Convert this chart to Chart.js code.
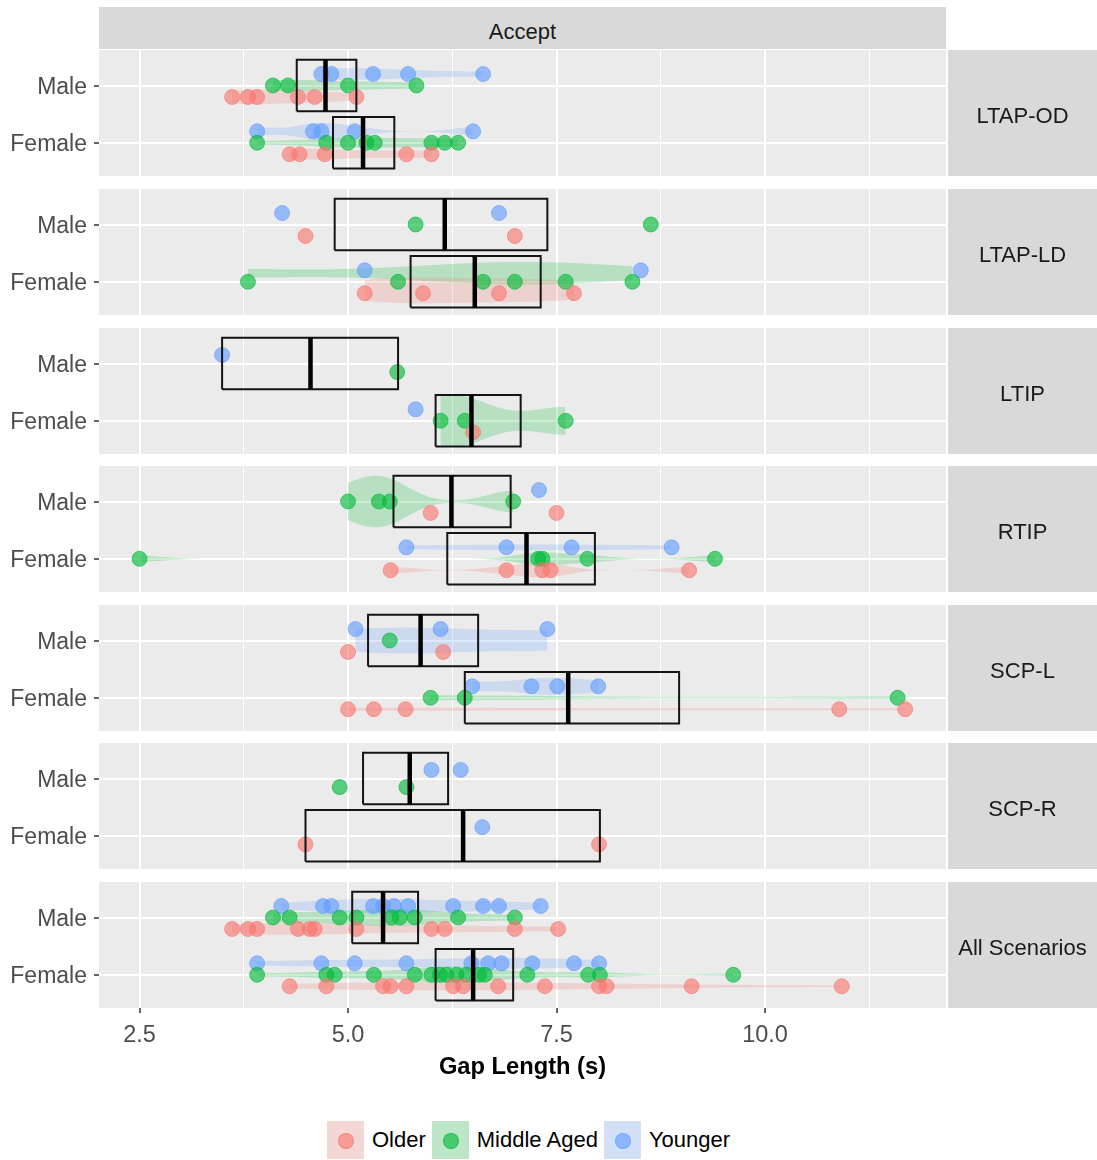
<!DOCTYPE html>
<html>
<head>
<meta charset="utf-8">
<script src="https://cdn.jsdelivr.net/npm/chart.js@4.4.1/dist/chart.umd.min.js"></script>
<style>
  body { margin: 0; background: #ffffff; }
  #figure { position: relative; width: 1097px; height: 1160px; font-family: "Liberation Sans", Arial, sans-serif; overflow: hidden; }
  #figure canvas { position: absolute; left: 0; }
  .strip-top { position: absolute; left: 99px; top: 7px; width: 847px; height: 42px; background: #D9D9D9;
               color: #1A1A1A; font-size: 22px; line-height: 50px; text-align: center; }
  #legend { position: absolute; left: 327px; top: 1121px; height: 38px; display: flex; align-items: center; }
  .key { position: relative; width: 37px; height: 38px; background: #F2F2F2; margin-right: 8px; }
  .key .fill { position: absolute; inset: 0; }
  .key .dot { position: absolute; left: 11px; top: 12px; width: 14px; height: 14px; border-radius: 50%; border: 1px solid; }
  .lab { font-size: 22px; color: #000; margin-right: 6px; }
</style>
</head>
<body>
<div id="figure">
  <div class="strip-top">Accept</div>
  <div id="legend"></div>
</div>
<script>
// ---- facets, groups, colours ----
const scenarios = ['LTAP-OD', 'LTAP-LD', 'LTIP', 'RTIP', 'SCP-L', 'SCP-R', 'All Scenarios'];
const genders = ['Male', 'Female'];
const ageGroups = ['Older', 'Middle Aged', 'Younger'];
const ageColors = ['248,118,109', '0,186,56', '97,156,255'];

// ---- gap lengths (s): [Male, Female] x [Older, Middle Aged, Younger] ----
const gapLtapOd = [
  [[3.61, 3.80, 3.91, 4.40, 4.60, 5.10], [4.10, 4.28, 5.00, 5.82], [4.68, 4.80, 5.30, 5.72, 6.62]],
  [[4.30, 4.42, 4.72, 5.70, 6.00], [3.91, 4.74, 5.00, 5.22, 5.32, 6.00, 6.16, 6.32], [3.91, 4.58, 4.68, 5.08, 6.50]]
];
const gapLtapLd = [
  [[4.49, 7.00], [5.81, 8.63], [4.21, 6.81]],
  [[5.20, 5.90, 6.81, 7.71], [3.80, 5.60, 6.62, 7.00, 7.61, 8.41], [5.20, 8.51]]
];
const gapLtip = [
  [[], [5.59], [3.49]],
  [[6.50], [6.11, 6.40, 7.61], [5.81]]
];
const gapRtip = [
  [[5.99, 7.50], [5.00, 5.37, 5.50, 6.98], [7.29]],
  [[5.51, 6.90, 7.33, 7.43, 9.09], [2.50, 7.28, 7.33, 7.87, 9.40], [5.70, 6.90, 7.68, 8.88]]
];
const gapScpL = [
  [[5.00, 6.14], [5.50], [5.09, 6.11, 7.39]],
  [[5.00, 5.31, 5.69, 10.89, 11.68], [5.99, 6.40, 11.59], [6.49, 7.20, 7.51, 8.00]]
];
const gapScpR = [
  [[], [4.90, 5.70], [6.00, 6.35]],
  [[4.49, 8.01], [], [6.61]]
];
const gapAll = [
  [[3.61, 3.80, 3.91, 4.40, 4.54, 4.60, 5.10, 6.00, 6.16, 7.00, 7.52],
   [4.10, 4.30, 4.90, 5.10, 5.52, 5.62, 5.80, 6.32, 7.00],
   [4.20, 4.70, 4.80, 5.30, 5.42, 5.55, 5.72, 6.26, 6.62, 6.81, 7.31]],
  [[4.30, 4.74, 5.42, 5.51, 5.70, 6.26, 6.38, 6.80, 7.36, 8.01, 8.10, 9.12, 10.92],
   [3.91, 4.74, 4.84, 5.31, 5.80, 6.00, 6.10, 6.18, 6.30, 6.42, 6.57, 6.64, 7.15, 7.88, 8.02, 9.62],
   [3.91, 4.68, 5.08, 5.70, 6.48, 6.68, 6.84, 7.21, 7.71, 8.01]]
];
const gapByScenario = [gapLtapOd, gapLtapLd, gapLtip, gapRtip, gapScpL, gapScpR, gapAll];

// ---- box statistics per scenario: [Male, Female] ----
const boxQ1     = [[4.385, 4.82], [4.84, 5.75], [3.49, 6.05], [5.545, 6.19], [5.24, 6.40], [5.18, 4.49], [5.05, 6.05]];
const boxMedian = [[4.73, 5.18],  [6.16, 6.52], [4.55, 6.48], [6.24, 7.14],  [5.87, 7.64], [5.74, 6.38], [5.42, 6.50]];
const boxQ3     = [[5.10, 5.555], [7.39, 7.31], [5.60, 7.07], [6.95, 7.96],  [6.56, 8.97], [6.20, 8.02], [5.84, 6.98]];

// ---- x axis ----
const xGridValues = [2.5, 3.75, 5, 6.25, 7.5, 8.75, 10, 11.25];
const xLabelValues = [2.5, 5, 7.5, 10];
const xLimits = [2.014, 12.17];

// ---- geometry of the facet grid (page pixels) ----
const FONT = '"Liberation Sans", Arial, sans-serif';
const panelTops = [50, 189, 328, 466, 605, 743, 882];
const PANEL_H = 126;
const AXIS_H = 92;
const rowY = [2, 1];            // Male above Female
const yLimits = [0.42, 2.62];
const DODGE = 0.6, BOX_W = 0.9;

Chart.defaults.font.family = FONT;

const rgba = (c, a) => `rgba(${c},${a})`;

// violin density: gaussian kernel, bandwidth by Silverman's rule (bw.nrd0), trimmed to the data range
function quantile(sorted, p) {
  const h = (sorted.length - 1) * p, lo = Math.floor(h);
  const hi = Math.min(lo + 1, sorted.length - 1);
  return sorted[lo] + (h - lo) * (sorted[hi] - sorted[lo]);
}
function bandwidth(values) {
  const s = values.slice().sort((a, b) => a - b), n = s.length;
  const mean = s.reduce((a, b) => a + b, 0) / n;
  const sd = Math.sqrt(s.reduce((a, b) => a + (b - mean) ** 2, 0) / (n - 1));
  let lo = Math.min(sd, (quantile(s, 0.75) - quantile(s, 0.25)) / 1.34);
  if (!(lo > 0)) lo = sd || 1;
  return 0.9 * lo * Math.pow(n, -0.2);
}
function density(values, steps = 200) {
  const bw = bandwidth(values);
  const lo = Math.min(...values), hi = Math.max(...values);
  const out = [];
  for (let i = 0; i <= steps; i++) {
    const x = lo + (hi - lo) * i / steps;
    let d = 0;
    for (const v of values) { const z = (x - v) / bw; d += Math.exp(-0.5 * z * z); }
    out.push({ x, d: d / (values.length * bw * Math.sqrt(2 * Math.PI)) });
  }
  return out;
}

function buildDatasets(p) {
  const rows = gapByScenario[p];
  const datasets = [];

  // violins (groups with at least three observations), dodged and area-scaled within the panel
  const violins = [];
  rows.forEach((groups, gi) => {
    const shown = groups.map((v, a) => ({ v, a })).filter(o => o.v.length >= 3);
    shown.forEach((o, idx) => {
      const k = shown.length;
      violins.push({ a: o.a, k, yc: rowY[gi] + DODGE * ((idx + 0.5) / k - 0.5), dens: density(o.v) });
    });
  });
  const dMax = Math.max(0, ...violins.flatMap(v => v.dens.map(d => d.d)));
  violins.forEach(v => {
    const half = BOX_W / v.k / 2;
    const upper = v.dens.map(d => ({ x: d.x, y: v.yc + half * d.d / dMax }));
    const lower = v.dens.slice().reverse().map(d => ({ x: d.x, y: v.yc - half * d.d / dMax }));
    datasets.push({
      data: upper.concat(lower), showLine: true, fill: 'shape', tension: 0,
      backgroundColor: rgba(ageColors[v.a], 0.22), borderColor: 'rgba(0,0,0,0)', borderWidth: 0,
      pointRadius: 0, order: 3
    });
  });

  // observations, dodged by age group
  rows.forEach((groups, gi) => {
    const present = groups.map((v, a) => ({ v, a })).filter(o => o.v.length > 0);
    present.forEach((o, idx) => {
      const y = rowY[gi] + DODGE * ((idx + 0.5) / present.length - 0.5);
      datasets.push({
        data: o.v.map(x => ({ x, y })),
        pointRadius: 7.5, pointBorderWidth: 1,
        backgroundColor: rgba(ageColors[o.a], 0.62), borderColor: rgba(ageColors[o.a], 0.62),
        order: 2
      });
    });
  });

  // boxes with median bar
  genders.forEach((g, gi) => {
    const yc = rowY[gi], h = BOX_W / 2;
    const q1 = boxQ1[p][gi], q3 = boxQ3[p][gi], med = boxMedian[p][gi];
    datasets.push({
      data: [{ x: q1, y: yc - h }, { x: q3, y: yc - h }, { x: q3, y: yc + h }, { x: q1, y: yc + h }, { x: q1, y: yc - h }],
      showLine: true, fill: false, tension: 0, borderColor: '#141414', borderWidth: 2,
      borderJoinStyle: 'miter', pointRadius: 0, order: 1
    });
    datasets.push({
      data: [{ x: med, y: yc - h }, { x: med, y: yc + h }],
      showLine: true, fill: false, borderColor: '#000000', borderWidth: 4.5,
      borderCapStyle: 'butt', pointRadius: 0, order: 0
    });
  });
  return datasets;
}

// grey panel background and the facet strip on the right
const panelDecor = {
  id: 'panelDecor',
  beforeDraw(chart, args, opts) {
    const { ctx, chartArea: a } = chart;
    ctx.save();
    ctx.fillStyle = '#EBEBEB';
    ctx.fillRect(a.left, a.top, a.right - a.left, a.bottom - a.top);
    const sx = a.right + 2;
    ctx.fillStyle = '#D9D9D9';
    ctx.fillRect(sx, a.top, chart.width - sx, a.bottom - a.top);
    ctx.fillStyle = '#1A1A1A';
    ctx.font = `22px ${FONT}`;
    ctx.textAlign = 'center';
    ctx.textBaseline = 'middle';
    ctx.fillText(opts.label, (sx + chart.width) / 2, (a.top + a.bottom) / 2 + 3.5);
    ctx.restore();
  }
};

const isMajor = v => xLabelValues.some(m => Math.abs(m - v) < 1e-9);

const figure = document.getElementById('figure');
scenarios.forEach((name, p) => {
  const last = p === scenarios.length - 1;
  const canvas = document.createElement('canvas');
  canvas.width = 1097;
  canvas.height = PANEL_H + (last ? AXIS_H : 0);
  canvas.style.top = panelTops[p] + 'px';
  figure.appendChild(canvas);

  new Chart(canvas, {
    type: 'scatter',
    data: { datasets: buildDatasets(p) },
    options: {
      responsive: false, animation: false, devicePixelRatio: 1, events: [],
      layout: { autoPadding: false, padding: { left: 0, right: 151, top: 0, bottom: 0 } },
      plugins: { legend: { display: false }, tooltip: { enabled: false }, panelDecor: { label: name } },
      scales: {
        x: {
          type: 'linear', min: xLimits[0], max: xLimits[1],
          afterBuildTicks: s => { s.ticks = xGridValues.map(value => ({ value })); },
          afterFit: s => { s.height = last ? AXIS_H : 0; s.paddingLeft = 0; s.paddingRight = 0; },
          border: { display: false },
          grid: {
            color: '#FFFFFF',
            lineWidth: c => (c.tick && isMajor(c.tick.value)) ? 2 : 1,
            drawTicks: last, tickLength: 5, tickWidth: 1.5,
            tickColor: c => (c.tick && isMajor(c.tick.value)) ? '#333333' : 'rgba(0,0,0,0)'
          },
          ticks: {
            display: last, autoSkip: false, maxRotation: 0, padding: 8,
            color: '#4D4D4D', font: { size: 23.5, family: FONT },
            callback: v => isMajor(v) ? v.toFixed(1) : ''
          },
          title: {
            display: last, text: 'Gap Length (s)', color: '#000000',
            font: { size: 23.7, weight: 'bold', family: FONT }, padding: { top: 4, bottom: 18 }
          }
        },
        y: {
          type: 'linear', min: yLimits[0], max: yLimits[1],
          afterBuildTicks: s => { s.ticks = rowY.map(value => ({ value })); },
          afterFit: s => { s.width = 99; s.paddingTop = 0; s.paddingBottom = 0; },
          border: { display: false },
          grid: { color: '#FFFFFF', lineWidth: 2, drawTicks: true, tickLength: 5, tickWidth: 1.5, tickColor: '#333333' },
          ticks: {
            padding: 7, labelOffset: 2, color: '#4D4D4D', font: { size: 23, family: FONT },
            callback: v => genders[rowY.indexOf(v)]
          }
        }
      }
    },
    plugins: [panelDecor]
  });
});

// legend: violin key with point
const legend = document.getElementById('legend');
ageGroups.forEach((g, a) => {
  const key = document.createElement('div');
  key.className = 'key';
  const fill = document.createElement('div');
  fill.className = 'fill';
  fill.style.background = rgba(ageColors[a], 0.22);
  const dot = document.createElement('div');
  dot.className = 'dot';
  dot.style.background = rgba(ageColors[a], 0.62);
  dot.style.borderColor = rgba(ageColors[a], 0.62);
  key.appendChild(fill);
  key.appendChild(dot);
  const lab = document.createElement('span');
  lab.className = 'lab';
  lab.textContent = g;
  legend.appendChild(key);
  legend.appendChild(lab);
});
</script>
</body>
</html>
